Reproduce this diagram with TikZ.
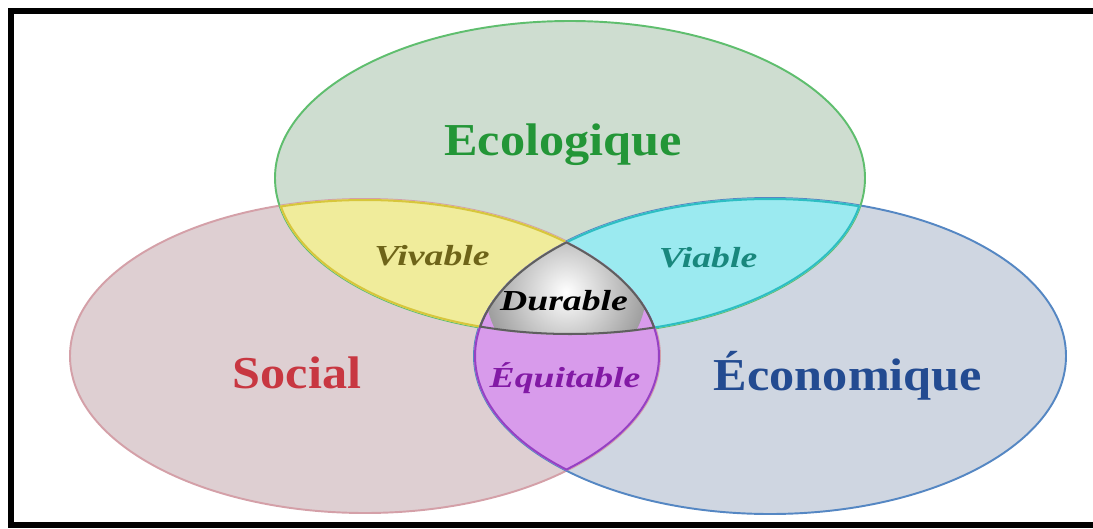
\documentclass[tikz,border=0pt]{standalone}
\usepackage{fontspec}
\setmainfont{Liberation Serif}
\usetikzlibrary{backgrounds}
\definecolor{ecofill}{RGB}{206,221,208}
\definecolor{ecoline}{RGB}{95,190,110}
\definecolor{socfill}{RGB}{222,207,210}
\definecolor{socline}{RGB}{212,160,168}
\definecolor{econfill}{RGB}{207,214,225}
\definecolor{econline}{RGB}{85,135,195}
\definecolor{vivfill}{RGB}{240,236,155}
\definecolor{vivline}{RGB}{215,198,60}
\definecolor{viafill}{RGB}{155,234,240}
\definecolor{vialine}{RGB}{45,190,195}
\definecolor{equfill}{RGB}{216,155,235}
\definecolor{equline}{RGB}{150,65,195}
\definecolor{durline}{RGB}{95,95,95}
\definecolor{ecotext}{RGB}{35,150,55}
\definecolor{soctext}{RGB}{200,55,65}
\definecolor{econtext}{RGB}{35,75,145}
\definecolor{vivtext}{RGB}{110,100,25}
\definecolor{viatext}{RGB}{25,135,125}
\definecolor{equtext}{RGB}{130,25,165}
\tikzstyle{bigword}=[anchor=base,inner sep=0pt,xscale=1.1,
  font=\fontsize{26}{30}\selectfont\bfseries]
\tikzstyle{smallword}=[anchor=base,inner sep=0pt,xscale=1.3,
  font=\fontsize{16.5}{20}\selectfont\bfseries\itshape]
\tikzstyle{rim}=[line width=1.1pt]
\tikzstyle{innerrim}=[line width=2.3pt]
\def\ecoset{(570,178) ellipse [x radius=295, y radius=157]}
\def\socset{(365,356) ellipse [x radius=295, y radius=157]}
\def\econset{(770,356) ellipse [x radius=296, y radius=158]}

\begin{document}
\begin{tikzpicture}[x=0.02cm, y=-0.02cm]
  \useasboundingbox (0,0) rectangle (1093,528);
  \fill[white] (0,0) rectangle (1093,528);

  \fill[socfill] \socset;
  \fill[econfill] \econset;
  \fill[ecofill] \ecoset;
  \draw[rim, socline] \socset;
  \draw[rim, econline] \econset;
  \draw[rim, ecoline] \ecoset;

  % two-way overlaps
  \begin{scope}
    \clip \ecoset; \clip \socset;
    \fill[vivfill] \socset;
    \draw[innerrim, vivline] \ecoset \socset;
  \end{scope}
  \begin{scope}
    \clip \ecoset; \clip \econset;
    \fill[viafill] \econset;
    \draw[innerrim, vialine] \ecoset \econset;
  \end{scope}
  \begin{scope}
    \clip \socset; \clip \econset;
    \fill[equfill] \econset;
    \draw[innerrim, equline] \socset \econset;
  \end{scope}
  % centre
  \begin{scope}
    \clip \ecoset; \clip \socset; \clip \econset;
    \shade[inner color=white, outer color=black!38] (566,292) circle [radius=80];
    \draw[innerrim, durline] \ecoset \socset \econset;
  \end{scope}

  \node[bigword, ecotext] (ecologique) at (563,155) {Ecologique};
  \node[bigword, soctext] (social) at (297,388) {Social};
  \node[bigword, econtext] (economique) at (848,390) {Économique};
  \node[smallword, vivtext] (vivable) at (432,265) {Vivable};
  \node[smallword, viatext] (viable) at (708,267) {Viable};
  \node[smallword, black] (durable) at (564,310) {Durable};
  \node[smallword, equtext] (equitable) at (565,387) {Équitable};

  \draw[line width=0.12cm] (1130,11) -- (11,11) -- (11,525) -- (1130,525);
\end{tikzpicture}
\end{document}
